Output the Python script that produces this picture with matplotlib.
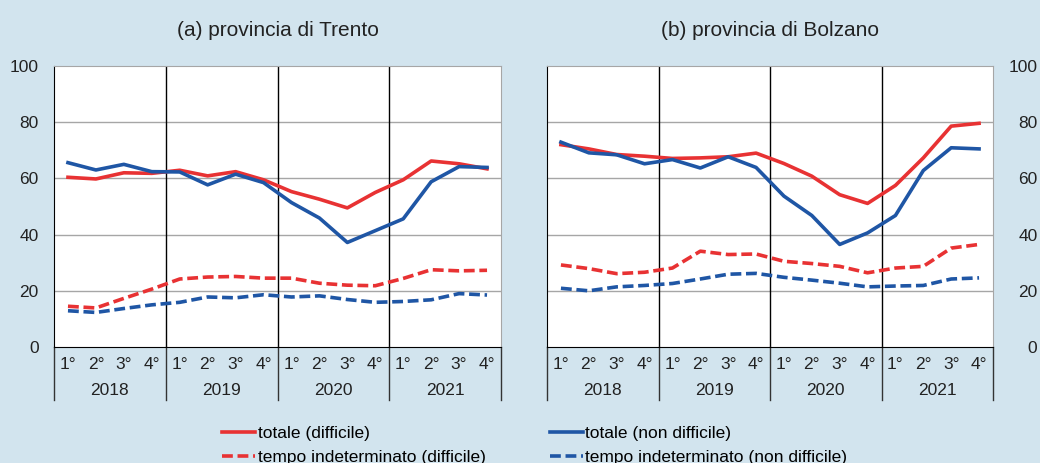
import matplotlib.pyplot as plt
import matplotlib.transforms as mtransforms

plt.rcParams['font.family'] = ['Liberation Sans', 'DejaVu Sans']
plt.rcParams['font.size'] = 12.5

quarters = ['1°', '2°', '3°', '4°'] * 4
years = ['2018', '2019', '2020', '2021']

# (a) provincia di Trento
trento_tot_diff = [60.4, 59.8, 62.0, 61.8, 62.9, 60.9, 62.4, 59.5,
                   55.3, 52.6, 49.5, 55.0, 59.5, 66.2, 65.2, 63.4]
trento_tot_nondiff = [65.6, 63.0, 65.0, 62.4, 62.3, 57.7, 61.5, 58.5,
                      51.4, 45.9, 37.2, 41.4, 45.6, 58.8, 64.2, 63.9]
trento_ind_diff = [14.5, 13.9, 17.3, 20.6, 24.2, 24.9, 25.1, 24.5,
                   24.5, 22.7, 22.0, 21.8, 24.4, 27.5, 27.1, 27.3]
trento_ind_nondiff = [12.9, 12.3, 13.7, 15.0, 15.9, 17.8, 17.5, 18.6,
                      17.8, 18.2, 16.9, 15.9, 16.2, 16.8, 19.0, 18.5]

# (b) provincia di Bolzano
bolzano_tot_diff = [72.0, 70.5, 68.5, 67.9, 67.1, 67.3, 67.7, 69.0,
                    65.3, 60.8, 54.2, 51.1, 57.5, 67.3, 78.6, 79.6]
bolzano_tot_nondiff = [72.9, 69.1, 68.4, 65.2, 66.7, 63.7, 67.7, 63.9,
                       53.7, 46.8, 36.5, 40.6, 46.8, 62.8, 70.9, 70.5]
bolzano_ind_diff = [29.2, 27.9, 26.1, 26.6, 28.1, 34.1, 32.9, 33.1,
                    30.5, 29.7, 28.7, 26.4, 28.1, 28.7, 35.2, 36.5]
bolzano_ind_nondiff = [20.9, 20.0, 21.4, 21.9, 22.6, 24.2, 25.9, 26.2,
                       24.8, 23.8, 22.7, 21.4, 21.7, 21.9, 24.2, 24.6]

RED = '#E83233'
BLUE = '#1F56A5'
BG = '#D2E4EE'
GRID = '#A6A6A6'
TXT = '#222222'

fig = plt.figure(figsize=(10.4, 4.63), dpi=100, facecolor=BG)
ax1 = fig.add_axes([54 / 1040, 1 - 347 / 463, 447 / 1040, 281 / 463])
ax2 = fig.add_axes([547 / 1040, 1 - 347 / 463, 446 / 1040, 281 / 463])


def draw_panel(ax, title, tot_d, tot_nd, ind_d, ind_nd, right=False):
    x = list(range(len(quarters)))
    ax.set_facecolor('white')
    for v in [20, 40, 60, 80]:
        ax.axhline(v, color=GRID, lw=1, zorder=1)
    for s in [3.5, 7.5, 11.5]:
        ax.axvline(s, color='black', lw=1, zorder=2)
    ax.plot(x, tot_d, color=RED, lw=2.6, zorder=4, label='totale (difficile)')
    ax.plot(x, ind_d, color=RED, lw=2.6, ls=(0, (3, 1.3)), zorder=4,
            label='tempo indeterminato (difficile)')
    ax.plot(x, tot_nd, color=BLUE, lw=2.6, zorder=4, label='totale (non difficile)')
    ax.plot(x, ind_nd, color=BLUE, lw=2.6, ls=(0, (3, 1.3)), zorder=4,
            label='tempo indeterminato (non difficile)')
    ax.set_xlim(-0.5, 15.5)
    ax.set_ylim(0, 100)
    ax.set_yticks([0, 20, 40, 60, 80, 100])
    ax.set_xticks(x)
    ax.set_xticklabels(quarters, color=TXT)
    ax.tick_params(axis='x', length=0, pad=7.5)
    if right:
        ax.yaxis.tick_right()
        ax.tick_params(axis='y', length=0, pad=32)
        for lab in ax.get_yticklabels():
            lab.set_horizontalalignment('right')
    else:
        ax.tick_params(axis='y', length=0, pad=11)
    ax.tick_params(axis='y', labelcolor=TXT)
    for side in ['top', 'right']:
        ax.spines[side].set_color(GRID)
    for side in ['left', 'bottom']:
        ax.spines[side].set_color('black')
    # category separators under the axis
    trans = mtransforms.blended_transform_factory(ax.transData, ax.transAxes)
    for s in [-0.5, 3.5, 7.5, 11.5, 15.5]:
        ax.plot([s, s], [0, -0.19], transform=trans, color='#333333',
                lw=1, clip_on=False)
    for i, yr in enumerate(years):
        ax.text(4 * i + 1.5, -0.1555, yr, transform=trans, ha='center',
                va='center', color=TXT)
    ax.set_title(title, fontsize=15, pad=21.5, color=TXT)


draw_panel(ax1, '(a) provincia di Trento', trento_tot_diff, trento_tot_nondiff,
           trento_ind_diff, trento_ind_nondiff)
draw_panel(ax2, '(b) provincia di Bolzano', bolzano_tot_diff, bolzano_tot_nondiff,
           bolzano_ind_diff, bolzano_ind_nondiff, right=True)

handles, labels = ax1.get_legend_handles_labels()
fig.legend(handles, labels, ncol=2, loc='upper left',
           bbox_to_anchor=(222 / 1040, 1 - 426 / 463), frameon=False,
           handlelength=1.9, handletextpad=0.15, columnspacing=3.7,
           labelspacing=0.5, borderpad=0, borderaxespad=0, fontsize=12.5)

fig.savefig('out.png', dpi=100, facecolor=BG)
